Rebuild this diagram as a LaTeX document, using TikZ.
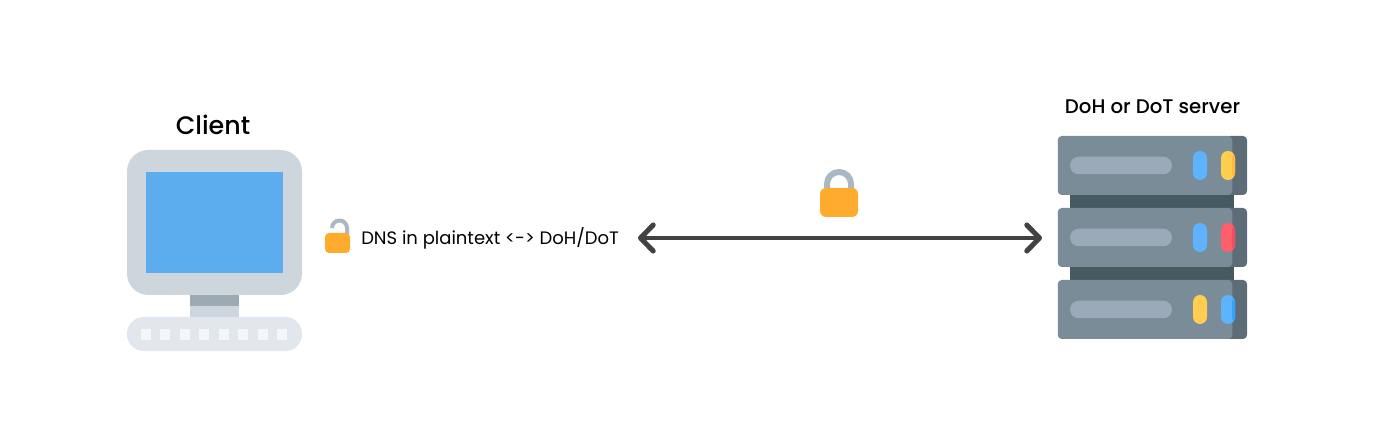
\documentclass[tikz,border=0pt]{standalone}
\usepackage{fontspec}
\setmainfont{Poppins Medium}
\newfontfamily\plainfont{Poppins}
\usetikzlibrary{
    arrows.meta,
    positioning
}
\definecolor{bezel}{HTML}{CDD6DC}
\definecolor{screenblue}{HTML}{5CADED}
\definecolor{neck}{HTML}{9BAAB3}
\definecolor{keyboard}{HTML}{E1E7ED}
\definecolor{keycap}{HTML}{F4F7F9}
\definecolor{rackface}{HTML}{7A8C98}
\definecolor{rackside}{HTML}{5D6D78}
\definecolor{rackgap}{HTML}{465A61}
\definecolor{slot}{HTML}{9BAAB8}
\definecolor{ledblue}{HTML}{5EB3FF}
\definecolor{ledyellow}{HTML}{FFCD50}
\definecolor{ledred}{HTML}{FF5F6B}
\definecolor{tipblue}{HTML}{2EA5FF}
\definecolor{tipyellow}{HTML}{FFB93C}
\definecolor{tipred}{HTML}{F04E5E}
\definecolor{lockbody}{HTML}{FFAC2E}
\definecolor{shackle}{HTML}{A9B8C2}
\definecolor{linkgrey}{HTML}{424242}

\begin{document}
\begin{tikzpicture} [x=0.75pt,y=-0.75pt,inner sep=0pt,
    part/.style n args={3}{rectangle,fill=#1,
                  minimum width=#2*0.75pt,minimum height=#3*0.75pt},
    key/.style={part={keycap}{10}{11}},
    rack/.style={part={rackface}{174.5}{59},rounded corners=3pt},
    rackend/.style={part={rackside}{21}{59},rounded corners=3pt},
    led/.style={part={#1}{14}{29},rounded corners=5.2pt},
    tipped/.style={path picture={\fill[#1] ([xshift=-2.25pt]path picture bounding box.north east)
                  rectangle (path picture bounding box.south east);}},
    label/.style={font=\fontsize{#1}{#1}\selectfont,text=black},
    barb/.tip={Straight Barb[length=9.5pt,width=19.5pt,line width=3.8pt,round]}
]
    \useasboundingbox (0,0) rectangle (1373,434);

    % client
    \node[label=19pt] (client label) at (213,125) {Client};
    \node[part={neck}{49}{11}]     (neck)   at (214.5,300.5) {};
    \node[part={bezel}{49}{12}]    (foot)   at (214.5,312) {};
    \node[part={bezel}{175}{145},rounded corners=16pt] (monitor) at (214.5,222.5) {};
    \node[part={screenblue}{137}{101}] (screen) at (214.5,222.5) {};
    \node[part={keyboard}{175}{34},rounded corners=12.5pt] (keys) at (214.5,334) {};
    \foreach \i in {0,...,7}
        \node[key] (key \i) at (146+\i*19.43,334.5) {};

    % server
    \node[label=14.8pt] (server label) at (1152.5,106.5) {DoH or DoT server};
    \node[part={rackgap}{164}{13}] (gap 1) at (1152,201.5) {};
    \node[part={rackgap}{164}{13}] (gap 2) at (1152,273.5) {};
    \foreach \name/\y/\first/\second/\tip in {top/165.5/ledblue/ledyellow/tipyellow,
                                         middle/237.5/ledblue/ledred/tipred,
                                         bottom/309.5/ledyellow/ledblue/tipblue} {
        \node[rackend] (\name end) at (1236.5,\y) {};
        \node[rack] (\name) at (1145,\y) {};
        \node[part={slot}{102}{17.5},rounded corners=6.5pt] (\name slot) at (1121,\y) {};
        \node[led=\first]  (\name led 1) at (1200,\y) {};
        \node[led=\second,tipped=\tip] (\name led 2) at (1228,\y) {};
    }

    % text and locks
    \node[label=13.5pt,anchor=west] (migration) at (361,238) {\plainfont DNS in plaintext <-> DoH/DoT};

    \draw[shackle,line width=3pt] (332,228) arc[start angle=180,end angle=0,x radius=7.5,y radius=-7.5] -- (347,235);
    \node[part={lockbody}{25}{20},rounded corners=3pt] (open lock) at (337.5,243) {};

    \draw[shackle,line width=4.5pt] (827,190) -- (827,184) arc[start angle=180,end angle=0,x radius=12,y radius=-12] -- (851,190);
    \node[part={lockbody}{38}{29},rounded corners=4.5pt] (closed lock) at (839,202.5) {};

    % link
    \coordinate (link west) at (638,238);
    \coordinate (link east) at (1042,238);
    \draw[barb-barb,linkgrey,line width=3.4pt] (link west) -- (link east);
\end{tikzpicture}
\end{document}
